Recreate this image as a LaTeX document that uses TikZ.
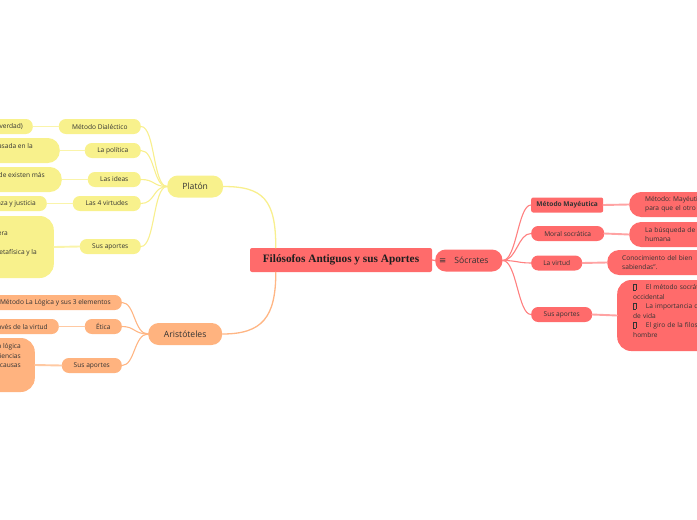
\documentclass[tikz,border=0pt]{standalone}
\usepackage{fontspec}
\setmainfont{Open Sans}
\newfontfamily\titlefont{Liberation Serif}
\newfontfamily\symfont{DejaVu Sans}
\frenchspacing
\newcommand{\Branch}{1.1pt}
\newcommand{\Twig}{1.9pt}
\newcommand{\Tofu}{{\setlength\fboxrule{0.25pt}\setlength\fboxsep{0pt}\fbox{\rule{0pt}{5.2pt}\hspace{2.2pt}}}}
\definecolor{ink}{HTML}{333333}
\definecolor{titleink}{HTML}{1E1E1E}
\definecolor{socfill}{HTML}{FF6B6B}
\definecolor{socline}{HTML}{FF8080}
\definecolor{socleaf}{HTML}{FFA3A3}
\definecolor{platfill}{HTML}{F8F18C}
\definecolor{platline}{HTML}{F8EF8E}
\definecolor{platleaf}{HTML}{FAF4AA}
\definecolor{arifill}{HTML}{FFB37F}
\definecolor{ariline}{HTML}{FFB684}
\definecolor{arileaf}{HTML}{FFC9A2}

\tikzset{
  topic/.style={fill=socfill, rounded corners=2pt, minimum width=182pt, minimum height=24pt,
    inner sep=0pt, text=titleink, font=\titlefont\bfseries\fontsize{11.3}{13}\selectfont},
  branch/.style={rounded corners=10.5pt, minimum height=22pt, inner ysep=0pt, text=ink,
    font=\fontsize{8.6}{10}\selectfont},
  twig/.style={rounded corners=7pt, minimum height=15pt, inner ysep=0pt, inner xsep=0pt, text=ink,
    font=\fontsize{6.6}{8}\selectfont},
  leaf/.style={rounded corners=12pt, inner ysep=0pt, text=ink, font=\fontsize{6.6}{9.5}\selectfont},
}

\begin{document}
\begin{tikzpicture}[x=1pt, y=-1pt, line join=round, line cap=round]

  % ---- frame: the map runs off the page on both sides ----------------------
  \useasboundingbox (0,0) rectangle (697,520);
  \clip (0,0) rectangle (697,520);

  % ---- centre ---------------------------------------------------------------
  \node[topic] (root) at (341,260) {Filósofos Antiguos y sus Aportes};

  % ---- Sócrates -------------------------------------------------------------
  \node[branch, fill=socfill, anchor=west, inner xsep=4pt] (soc) at (435,260.5)
    {{\symfont ≡}\hspace{8pt}Sócrates\hspace*{10pt}};

  \node[twig, fill=socfill, anchor=west, minimum width=72pt, rounded corners=2pt,
    font=\bfseries\fontsize{6.6}{8}\selectfont] (smm) at (531,205) {Método Mayéutica};
  \node[twig, fill=socfill, anchor=west, minimum width=73pt] (smo) at (531,233.5) {Moral socrática};
  \node[twig, fill=socfill, anchor=west, minimum width=51pt] (svi) at (531,263) {La virtud};
  \node[twig, fill=socfill, anchor=west, minimum width=61pt] (sap) at (531,314.5) {Sus aportes};

  \node[leaf, fill=socfill, anchor=west, align=left, inner xsep=16pt, minimum height=25pt,
    text width=110pt] (smml) at (629,204.5) {Método: Mayéutica\\para que el otro};
  \node[leaf, fill=socfill, anchor=west, align=left, inner xsep=16pt, minimum height=25pt,
    text width=110pt] (smol) at (629,234.5) {La búsqueda de la\\humana};
  \node[leaf, fill=socfill, anchor=west, align=left, inner xsep=15pt, minimum height=25pt,
    text width=130pt] (svil) at (607,262.5) {Conocimiento del bien\\sabiendas''.};
  \node[leaf, fill=socfill, anchor=west, align=left, inner xsep=16pt, minimum height=71pt,
    text width=120pt, rounded corners=14pt] (sapl) at (617,315.5)
    {\Tofu\hspace{10pt}El método socrático\\occidental\\
     \Tofu\hspace{10pt}La importancia de la\\de vida\\
     \Tofu\hspace{10pt}El giro de la filosofía\\hombre\\\mbox{}};

  % ---- Platón ---------------------------------------------------------------
  \node[branch, fill=platfill, anchor=west, minimum width=56pt] (pla) at (167,186.5) {Platón};

  \node[twig, fill=platfill, anchor=east, minimum width=82pt] (pmd) at (141,126.5) {Método Dialéctico};
  \node[twig, fill=platfill, anchor=east, minimum width=56pt] (ppo) at (141,150.5) {La política};
  \node[twig, fill=platfill, anchor=east, minimum width=53pt] (pid) at (141,179.5) {Las ideas};
  \node[twig, fill=platfill, anchor=east, minimum width=68pt] (pvi) at (141,203.5) {Las 4 virtudes};
  \node[twig, fill=platfill, anchor=east, minimum width=61pt] (pap) at (141,246.5) {Sus aportes};

  \node[leaf, fill=platfill, anchor=east, align=right, inner xsep=10pt, minimum height=15pt,
    rounded corners=7pt] (pmdl) at (33,126.5) {(búsqueda de la verdad)};
  \node[leaf, fill=platfill, anchor=east, align=right, inner xsep=14pt, minimum height=25pt]
    (ppol) at (60,150.5) {Organización del Estado basada en la\hspace*{13pt}\\\mbox{}};
  \node[leaf, fill=platfill, anchor=east, align=right, inner xsep=14pt, minimum height=25pt]
    (pidl) at (62,179.5) {Mundo inteligible donde existen más\hspace*{3pt}\\\mbox{}};
  \node[leaf, fill=platfill, anchor=east, align=right, inner xsep=11pt, minimum height=15pt,
    rounded corners=7pt] (pvil) at (47,203.5) {Sabiduría, valentía, templanza y justicia};
  \node[leaf, fill=platfill, anchor=east, align=right, inner xsep=17pt, minimum height=62pt,
    rounded corners=14pt] (papl) at (54,247)
    {Fundó la Academia, la primera\hspace*{29pt}\\\mbox{}\\Sentó las bases de la metafísica y la\\\mbox{}};

  % ---- Aristóteles ----------------------------------------------------------
  \node[branch, fill=arifill, anchor=west, minimum width=74pt] (ari) at (148,334) {Aristóteles};

  \node[twig, fill=arifill, anchor=east, inner xsep=11pt] (alo) at (122,302.5)
    {Método La Lógica y sus 3 elementos};
  \node[twig, fill=arifill, anchor=east, minimum width=37pt] (aet) at (122,326.5) {Ética};
  \node[twig, fill=arifill, anchor=east, minimum width=60pt] (aap) at (122,365.5) {Sus aportes};

  \node[leaf, fill=arifill, anchor=east, align=right, inner xsep=11pt, minimum height=15pt,
    rounded corners=7pt] (aetl) at (59,326.5) {La felicidad a través de la virtud};
  \node[leaf, fill=arifill, anchor=east, align=right, inner xsep=14pt, minimum height=54pt,
    rounded corners=14pt] (aapl) at (35,365)
    {Fundó la lógica\\Estudió las ciencias\hspace*{2pt}\\Teoría de las 4 causas\hspace*{3pt}\\\mbox{}\\\mbox{}};

  % ---- connectors -----------------------------------------------------------
  \draw[socline, line width=1.3pt] (root.east) -- (soc.west);
  \draw[platline, line width=1.3pt] ([xshift=26pt]root.north west)
    .. controls +(0,-48) and +(40,0) .. (pla.east);
  \draw[ariline, line width=1.3pt] ([xshift=26pt]root.south west)
    .. controls +(0,45) and +(40,0) .. (ari.east);

  \foreach \kid in {smm,smo,svi,sap}
    \draw[socline, line width=\Branch] (soc.east) .. controls +(14,0) and +(-13,0) .. (\kid.west);
  \foreach \kid in {pmd,ppo,pid,pvi,pap}
    \draw[platline, line width=\Branch] (pla.west) .. controls +(-14,0) and +(14,0) .. (\kid.east);
  \foreach \kid in {alo,aet,aap}
    \draw[ariline, line width=\Branch] (ari.west) .. controls +(-14,0) and +(13,0) .. (\kid.east);

  % twigs to their leaves, straight across
  \foreach \kid in {smm,smo,svi,sap}
    \draw[socleaf, line width=\Twig] (\kid.east) -- (\kid l.west);
  \foreach \kid in {pmd,ppo,pid,pvi,pap}
    \draw[platleaf, line width=\Twig] (\kid.west) -- (\kid l.east);
  \foreach \kid in {aet,aap}
    \draw[arileaf, line width=\Twig] (\kid.west) -- (\kid l.east);

\end{tikzpicture}
\end{document}
